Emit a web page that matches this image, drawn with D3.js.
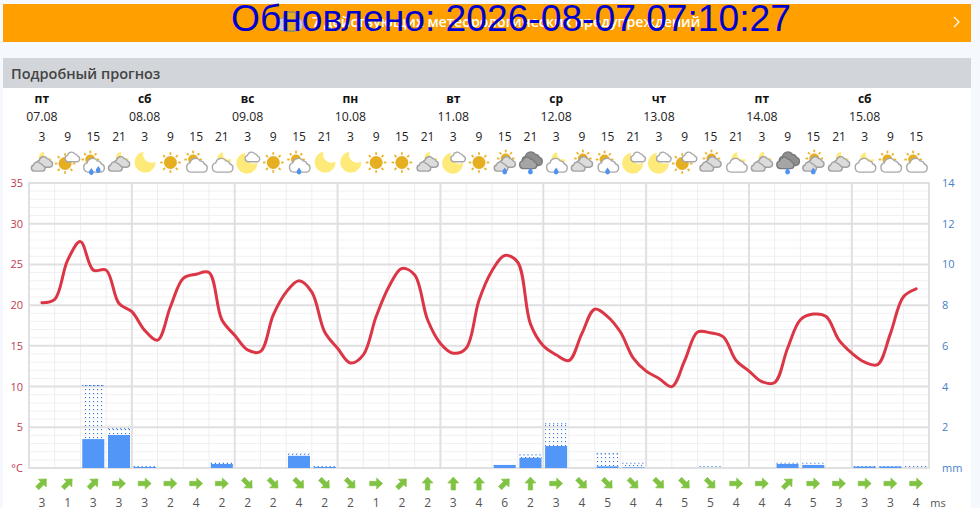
<!DOCTYPE html>
<html>
<head>
<meta charset="utf-8">
<script src="https://cdnjs.cloudflare.com/ajax/libs/d3/7.8.5/d3.min.js"></script>
<style>
  html, body { margin: 0; padding: 0; background: #f5f8fc; overflow: hidden; }
  svg { display: block; }
  text { font-family: "Open Sans", "Noto Sans", sans-serif; }
</style>
</head>
<body>
<svg id="chart" width="980" height="508"></svg>
<script>
const stamp = 'Обновлено: 2026-08-07 07:10:27';
const bannerText = '7 действующих метеорологических предупреждений';
const panelTitle = 'Подробный прогноз';

const dayNames = ['пт', 'сб', 'вс', 'пн', 'вт', 'ср', 'чт', 'пт', 'сб'];
const dayDates = ['07.08', '08.08', '09.08', '10.08', '11.08', '12.08', '13.08', '14.08', '15.08'];
const hours = [3, 9, 15, 21, 3, 9, 15, 21, 3, 9, 15, 21, 3, 9, 15, 21, 3, 9,
  15, 21, 3, 9, 15, 21, 3, 9, 15, 21, 3, 9, 15, 21, 3, 9, 15];

// temperature is sampled twice per column
const temperature = [
  20.3, 20.7, 25.5, 27.8, 24.3, 24.3, 20.2, 19.2, 16.9, 15.7, 19.8, 23.3, 23.8, 24.0, 18.2, 16.3, 14.5,
  14.3, 18.8, 21.6, 23.0, 21.6, 16.7, 14.7, 12.9, 13.9, 18.6, 22.3, 24.5, 23.7, 18.2, 15.3, 14.1, 14.7,
  20.6, 24.2, 26.1, 25.3, 17.7, 15.0, 13.9, 13.2, 16.5, 19.5, 18.6, 16.7, 13.5, 11.9, 11.0, 10.0, 13.2,
  16.7, 16.6, 16.1, 13.2, 11.9, 10.6, 10.5, 14.7, 18.2, 18.9, 18.6, 15.7, 14.1, 13.0, 12.7, 16.5, 21.0, 22.0
];

const rainSolid = [0, 0, 1.42, 1.62, 0.05, 0, 0, 0.2, 0, 0, 0.6, 0.05, 0, 0, 0, 0, 0, 0,
  0.15, 0.5, 1.08, 0, 0.08, 0.03, 0, 0, 0, 0, 0, 0.2, 0.15, 0, 0.07, 0.07, 0];
const rainTotal = [0, 0, 4.08, 1.95, 0.1, 0, 0, 0.25, 0, 0, 0.7, 0.1, 0, 0, 0, 0, 0, 0,
  0.15, 0.67, 2.2, 0, 0.72, 0.26, 0, 0, 0.1, 0, 0, 0.26, 0.26, 0, 0.1, 0.1, 0.1];

const windDeg = [45, 45, 45, 90, 90, 90, 90, 90, 135, 135, 135, 135, 135, 90, 45, 0, 0, 0,
  45, 0, 90, 135, 135, 135, 135, 135, 135, 90, 90, 45, 90, 90, 90, 90, 90];
const windSpeed = [3, 1, 3, 3, 3, 2, 4, 2, 2, 2, 4, 2, 2, 1, 2, 2, 3, 4,
  6, 2, 3, 4, 5, 4, 4, 5, 5, 4, 4, 4, 5, 3, 3, 3, 4];

// sky: s sun, m moon. cover: 0 clear, f small cloud, w white cloud, g two grey clouds, d dark cloud
const iconSky = ['m', 's', 's', 'm', 'm', 's', 's', 'm', 'm', 's', 's', 'm', 'm', 's', 's', 'm', 'm', 's',
  's', 'm', 'm', 's', 's', 'm', 'm', 's', 's', 'm', 'm', 's', 's', 'm', 'm', 's', 's'];
const iconCover = ['g', 'f', 'w', 'g', '0', '0', 'w', 'w', 'f', '0', 'w', '0', '0', '0', '0', 'g', 'f', '0',
  'g', 'd', 'w', 'g', 'w', 'f', 'f', 'f', 'g', 'w', 'g', 'd', 'g', 'g', 'w', 'w', 'w'];
const iconDrops = [0, 0, 2, 0, 0, 0, 0, 0, 0, 0, 1, 0, 0, 0, 0, 0, 0, 0,
  1, 1, 1, 0, 1, 0, 0, 0, 0, 0, 0, 1, 1, 0, 0, 0, 0];

const tempTicks = [35, 30, 25, 20, 15, 10, 5];
const rainTicks = [14, 12, 10, 8, 6, 4, 2];

const plot = { left: 29, right: 929, top: 183, bottom: 468 };
const svg = d3.select('#chart');
const defs = svg.append('defs');
defs.append('pattern').attr('id', 'dots')
  .attr('width', 4).attr('height', 4).attr('patternUnits', 'userSpaceOnUse')
  .append('rect').attr('x', 1).attr('y', 1).attr('width', 1.1).attr('height', 1.1).attr('fill', '#2f74dc');

const columns = d3.range(hours.length);
const x = d3.scaleBand().domain(columns).range([plot.left, plot.right]);
const xHalf = d3.scaleLinear().domain([0, temperature.length - 1])
  .range([x(0) + x.bandwidth() / 2, x(hours.length - 1) + x.bandwidth() / 2]);
const yTemp = d3.scaleLinear().domain([0, 35]).range([plot.bottom, plot.top]);
const yRain = d3.scaleLinear().domain([0, 14]).range([plot.bottom, plot.top]);
const cx = i => x(i) + x.bandwidth() / 2;
const edge = d => d < hours.length ? x(d) : plot.right;

// page blocks
svg.append('rect').attr('x', 3).attr('y', 58).attr('width', 968).attr('height', 450).attr('fill', '#fff');
svg.append('rect').attr('x', 3).attr('y', 58).attr('width', 968).attr('height', 30).attr('fill', '#d2d5d9');
svg.append('text').attr('x', 11).attr('y', 79).attr('font-size', 14.5).attr('font-weight', 600)
  .attr('fill', '#444').text(panelTitle);

// banner
svg.append('rect').attr('x', 3).attr('y', 4).attr('width', 968).attr('height', 38).attr('fill', '#ffa000');
svg.append('text').attr('x', 312).attr('y', 27).attr('font-size', 14.2).attr('font-weight', 600)
  .attr('fill', '#fff').text(bannerText);
const warn = svg.append('g').attr('transform', 'translate(290,22)');
warn.append('rect').attr('x', -13).attr('y', -4).attr('width', 26).attr('height', 13).attr('rx', 6)
  .attr('fill', '#ccc').attr('stroke', '#999');
warn.append('rect').attr('x', -6).attr('y', -10).attr('width', 12).attr('height', 19).attr('rx', 2)
  .attr('fill', '#e6ae21').attr('stroke', '#777');
svg.append('path').attr('d', 'M954,17 L959,22 L954,27').attr('fill', 'none')
  .attr('stroke', '#fff').attr('stroke-width', 1.2);
svg.append('text').attr('x', 231).attr('y', 31).attr('font-size', 37.2)
  .style('font-family', '"Liberation Sans", Arial, sans-serif')
  .attr('fill', '#0000d0').text(stamp);

// day + hour header
const head = svg.append('g').attr('text-anchor', 'middle').attr('fill', '#222');
head.selectAll('text.day').data(dayNames).join('text').attr('class', 'day')
  .attr('x', (d, i) => cx(i * 4)).attr('y', 103).attr('font-size', 12).attr('font-weight', 700)
  .attr('fill', '#111').text(d => d);
head.selectAll('text.date').data(dayDates).join('text').attr('class', 'date')
  .attr('x', (d, i) => cx(i * 4)).attr('y', 121).attr('font-size', 12.3).text(d => d);
head.selectAll('text.hour').data(hours).join('text').attr('class', 'hour')
  .attr('x', (d, i) => cx(i)).attr('y', 141).attr('font-size', 12).text(d => d);

// grid
const grid = svg.append('g').attr('fill', 'none');
grid.selectAll('line.minorH').data(d3.range(0, 36)).join('line').attr('class', 'minorH')
  .attr('x1', plot.left).attr('x2', plot.right).attr('y1', d => yTemp(d)).attr('y2', d => yTemp(d))
  .attr('stroke', '#f1f1f3');
grid.selectAll('line.minorV').data(d3.range(0, hours.length + 1)).join('line').attr('class', 'minorV')
  .attr('x1', edge).attr('x2', edge)
  .attr('y1', plot.top).attr('y2', plot.bottom).attr('stroke', '#eeeef0');
grid.selectAll('line.majorH').data(d3.range(0, 36, 5)).join('line').attr('class', 'majorH')
  .attr('x1', plot.left).attr('x2', plot.right).attr('y1', d => yTemp(d)).attr('y2', d => yTemp(d))
  .attr('stroke', '#e0e0e2').attr('stroke-width', 2);
grid.selectAll('line.majorV').data(d3.range(0, hours.length + 1, 4).concat(hours.length)).join('line').attr('class', 'majorV')
  .attr('x1', edge).attr('x2', edge)
  .attr('y1', plot.top - 1).attr('y2', plot.bottom + 1).attr('stroke', '#e0e0e2').attr('stroke-width', 2);

// axis labels
const leftAxis = svg.append('g').attr('text-anchor', 'end').attr('fill', '#c23a50').attr('font-size', 11);
leftAxis.selectAll('text').data(tempTicks).join('text')
  .attr('x', 23).attr('y', d => yTemp(d) + 4).text(d => d);
leftAxis.append('text').attr('x', 23).attr('y', yTemp(0) + 4).text('°C');
const rightAxis = svg.append('g').attr('fill', '#4a7fc8').attr('font-size', 11);
rightAxis.selectAll('text').data(rainTicks).join('text')
  .attr('x', 942).attr('y', d => yRain(d) + 4).text(d => d);
rightAxis.append('text').attr('x', 942).attr('y', yRain(0) + 4).text('mm');

// rain bars
const barW = 22;
svg.append('g').selectAll('rect').data(rainTotal).join('rect')
  .attr('x', (d, i) => cx(i) - barW / 2).attr('width', barW)
  .attr('y', d => yRain(d)).attr('height', d => yRain(0) - yRain(d))
  .attr('fill', 'url(#dots)');
// dotted cap so that even the thinnest forecast bars stay visible
svg.append('g').selectAll('line').data(columns.filter(i => rainTotal[i] > rainSolid[i])).join('line')
  .attr('x1', i => cx(i) - barW / 2).attr('x2', i => cx(i) + barW / 2)
  .attr('y1', i => yRain(rainTotal[i]) + 0.5).attr('y2', i => yRain(rainTotal[i]) + 0.5)
  .attr('stroke', '#2f74dc').attr('stroke-width', 1.1).attr('stroke-dasharray', '1.1 2.9');
svg.append('g').selectAll('rect').data(rainSolid).join('rect')
  .attr('x', (d, i) => cx(i) - barW / 2).attr('width', barW)
  .attr('y', d => yRain(d)).attr('height', d => yRain(0) - yRain(d))
  .attr('fill', '#5296f7');

// temperature line
const line = d3.line().x((d, i) => xHalf(i)).y(d => yTemp(d)).curve(d3.curveCatmullRom.alpha(0.5));
svg.append('path').datum(temperature).attr('d', line).attr('fill', 'none')
  .attr('stroke', '#dc3545').attr('stroke-width', 3).attr('stroke-linejoin', 'round').attr('stroke-linecap', 'round');

// wind
const wind = svg.append('g');
wind.selectAll('path').data(windDeg).join('path')
  .attr('transform', (d, i) => `translate(${cx(i)},483.5) rotate(${d})`)
  .attr('d', 'M-2.2,6.5 L-2.2,-0.5 L-5.5,-0.5 L0,-6.5 L5.5,-0.5 L2.2,-0.5 L2.2,6.5 Z')
  .attr('fill', '#80c342').attr('stroke', '#80c342').attr('stroke-width', 0.6).attr('stroke-linejoin', 'round');
wind.selectAll('text').data(windSpeed).join('text')
  .attr('x', (d, i) => cx(i)).attr('y', 506.5).attr('text-anchor', 'middle')
  .attr('font-size', 12).attr('fill', '#555').text(d => d);
svg.append('text').attr('x', 938).attr('y', 506.5).attr('text-anchor', 'middle')
  .attr('font-size', 11).attr('fill', '#555').text('ms');

// weather icons
function drawSun(g, cxx, cy, r) {
  d3.range(8).forEach(k => {
    const a = k * Math.PI / 4;
    g.append('line')
      .attr('x1', cxx + Math.cos(a) * (r + 1.2)).attr('y1', cy + Math.sin(a) * (r + 1.2))
      .attr('x2', cxx + Math.cos(a) * (r + 3.8)).attr('y2', cy + Math.sin(a) * (r + 3.8))
      .attr('stroke', '#e9b42c').attr('stroke-width', 1.8);
  });
  g.append('circle').attr('cx', cxx).attr('cy', cy).attr('r', r).attr('fill', '#e6ae21');
}
function drawMoon(g, cxx, cy, r) {
  const inner = r * 0.78;
  g.append('path')
    .attr('transform', `translate(${cxx},${cy}) rotate(-20)`)
    .attr('d', `M${r * 0.25},${-r} A${r},${r} 0 1 0 ${r},${r * 0.25} A${inner},${inner} 0 0 1 ${r * 0.25},${-r} Z`)
    .attr('fill', '#fdea78');
}
const cloudPath = 'M-6,6 A4.6,4.6 0 0 1 -7,-3 A5.5,5.5 0 0 1 3,-5 A4.5,4.5 0 0 1 7,-2 A4.1,4.1 0 0 1 6,6 Z';
function drawCloud(g, dx, dy, s, fill, stroke) {
  g.append('path').attr('transform', `translate(${dx},${dy}) scale(${s})`).attr('d', cloudPath)
    .attr('fill', fill).attr('stroke', stroke).attr('stroke-width', 1.4 / s);
}
function drawDrop(g, dx, dy) {
  g.append('path').attr('transform', `translate(${dx},${dy})`)
    .attr('d', 'M0,-3.6 C1.5,-1.4 2.4,-0.4 2.4,1 A2.4,2.4 0 0 1 -2.4,1 C-2.4,-0.4 -1.5,-1.4 0,-3.6 Z')
    .attr('fill', '#4f93ef');
}
columns.forEach(i => {
  const g = svg.append('g').attr('transform', `translate(${cx(i)},162.5)`);
  const sky = iconSky[i], cover = iconCover[i], drops = iconDrops[i];
  if (cover === '0') {
    if (sky === 's') drawSun(g, 0, 0, 6.5);
    else drawMoon(g, 0, 0, 10.5);
  } else if (cover === 'f') {
    if (sky === 's') drawSun(g, -2.5, 1, 6.5);
    else drawMoon(g, -1, 1, 10.5);
    drawCloud(g, 5, -5, 0.72, '#fff', '#a8a8a8');
  } else if (cover === 'w') {
    if (sky === 's') drawSun(g, -3, -3, 5);
    else drawMoon(g, 2, -3, 7);
    drawCloud(g, 1, 3.5, 1.02, '#fff', '#a8a8a8');
  } else if (cover === 'g') {
    if (sky === 's') drawSun(g, 1, -4, 5);
    else drawMoon(g, 3, -4, 6.5);
    drawCloud(g, 3, 0, 0.78, '#dcdcdc', '#a0a0a0');
    drawCloud(g, -3.5, 4.5, 0.68, '#dcdcdc', '#a0a0a0');
  } else if (cover === 'd') {
    drawCloud(g, 2, -3, 1.0, '#8f8f8f', '#7a7a7a');
    drawCloud(g, -2, 1, 0.85, '#a5a5a5', '#7a7a7a');
  }
  if (drops === 1) drawDrop(g, 0, 8.5);
  if (drops === 2) { drawDrop(g, -2, 9); drawDrop(g, 5, 7); }
});
</script>
</body>
</html>
